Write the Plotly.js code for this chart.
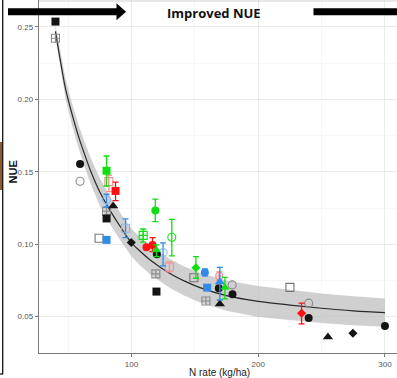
<!DOCTYPE html>
<html><head><meta charset="utf-8">
<script src="https://cdn.plot.ly/plotly-3.0.1.min.js"></script>
<style>html,body{margin:0;padding:0;background:#fff;}#chart{width:397px;height:378px;}</style>
</head><body><div id="chart"></div>
<script>
// ---- fitted curve and confidence band ----
const fitN     = [40, 44, 48, 53, 58, 63, 68, 75, 84, 92, 100, 107, 115, 130, 142, 154, 175, 200, 225, 250, 275, 300];
const fitNUE   = [0.247, 0.226, 0.207, 0.190, 0.175, 0.162, 0.150, 0.136, 0.122, 0.111, 0.101, 0.095, 0.089, 0.080, 0.0745, 0.070, 0.0645, 0.0605, 0.058, 0.0558, 0.054, 0.0528];
const bandHi   = [0.251, 0.232, 0.214, 0.1975, 0.183, 0.1705, 0.159, 0.1455, 0.1315, 0.1205, 0.1105, 0.1048, 0.099, 0.090, 0.0845, 0.0803, 0.075, 0.0712, 0.0685, 0.066, 0.064, 0.0626];
const bandLo   = [0.243, 0.220, 0.200, 0.1825, 0.167, 0.1535, 0.141, 0.1265, 0.1125, 0.1015, 0.0915, 0.0852, 0.079, 0.070, 0.0645, 0.0597, 0.054, 0.0498, 0.0475, 0.0456, 0.044, 0.043];

// ---- observations ----
const blkSqN = [40.0, 80.3, 119.7],            blkSqY = [0.2537, 0.1178, 0.0673];
const gryXSqN = [40.0, 80.3, 119.2, 158.7],    gryXSqY = [0.2422, 0.1228, 0.0795, 0.0608];
const blkCirN = [59.4, 120.0, 168.9, 179.7, 239.8, 300.0], blkCirY = [0.1554, 0.0931, 0.0696, 0.0655, 0.0491, 0.0436];
const gryCirN = [59.4, 179.4, 239.8],          gryCirY = [0.1435, 0.0719, 0.0593];
const blkTriN = [85.5, 169.7, 255.0],          blkTriY = [0.1264, 0.0588, 0.0360];
const grySqN  = [74.4, 149.2, 225.0],          grySqY  = [0.1041, 0.0769, 0.0702];
const blkDiaN = [99.8, 274.7],                 blkDiaY = [0.1012, 0.0385];

const grnSqN = [80.3],  grnSqY = [0.1507],  grnSqHi = [0.1609], grnSqLo = [0.1402];
const grnCirN = [118.8], grnCirY = [0.1232], grnCirHi = [0.1311], grnCirLo = [0.1156];
const grnXSqN = [109.2], grnXSqY = [0.1061], grnXSqHi = [0.1105], grnXSqLo = [0.1014];
const grnOCirN = [131.8], grnOCirY = [0.1048], grnOCirHi = [0.1172], grnOCirLo = [0.0919];
const grnTriN = [119.7, 173.7], grnTriY = [0.0960, 0.0702], grnTriHi = [0.0995, 0.0771], grnTriLo = [0.0914, 0.0622];
const grnDiaN = [150.8], grnDiaY = [0.0838], grnDiaHi = [0.0914], grnDiaLo = [0.0765];

const redSqN = [87.4], redSqY = [0.1368], redSqHi = [0.1428], redSqLo = [0.1301];
const ltRedSqN = [82.1, 129.9], ltRedSqY = [0.1432, 0.0843], ltRedSqHi = [0.1475, 0.0878], ltRedSqLo = [0.1363, 0.0809];
const redCirN = [111.8, 116.6], redCirY = [0.0979, 0.0995], redCirHi = [0.0979, 0.1045], redCirLo = [0.0979, 0.0949];
const ltRedCirN = [169.2], ltRedCirY = [0.0781], ltRedCirHi = [0.0809], ltRedCirLo = [0.0753];
const redDiaN = [234.2], redDiaY = [0.0523], redDiaHi = [0.0593], redDiaLo = [0.0450];

const bluSqN = [80.3, 159.7], bluSqY = [0.1030, 0.0700];
const ltBluCirN = [80.3, 124.9], ltBluCirY = [0.1306, 0.0942], ltBluCirHi = [0.1345, 0.1009], ltBluCirLo = [0.1257, 0.0850];
const ltBluSqN = [95.3], ltBluSqY = [0.1110], ltBluSqHi = [0.1175], ltBluSqLo = [0.1045];
const bluCirN = [157.9], bluCirY = [0.0805], bluCirHi = [0.0829], bluCirLo = [0.0781];
const bluTriN = [169.7], bluTriY = [0.0740], bluTriHi = [0.0840], bluTriLo = [0.0615];

const xTicks = [100, 200, 300];
const yTicks = [0.05, 0.10, 0.15, 0.20, 0.25];
const yTickText = ['0.05', '0.10', '0.15', '0.20', '0.25'];

// ---- styling ----
const BLACK = '#141414', GREY = '#8a8a8a', GREEN = '#10e010', RED = '#ff1010', LTRED = '#f59090',
      BLUE = '#2f8ae8', LTBLUE = '#86b6ec';

function errTrace(x, y, hi, lo, color) {
  return {type: 'scatter', mode: 'markers', x: x, y: y, hoverinfo: 'skip', showlegend: false,
    marker: {size: 0.1, color: 'rgba(0,0,0,0)'},
    error_y: {type: 'data', symmetric: false,
      array: hi.map((h, i) => h - y[i]), arrayminus: lo.map((l, i) => y[i] - l),
      color: color, thickness: 1.3, width: 3}};
}
function pts(x, y, symbol, color, size, open) {
  return {type: 'scatter', mode: 'markers', x: x, y: y, showlegend: false, hoverinfo: 'skip',
    marker: {symbol: symbol, size: size, color: color, line: {color: color, width: open ? 1.1 : 0}}};
}

const traces = [
  {type: 'scatter', mode: 'lines', x: fitN, y: bandLo, line: {width: 0, color: 'rgba(0,0,0,0)'}, showlegend: false, hoverinfo: 'skip'},
  {type: 'scatter', mode: 'lines', x: fitN, y: bandHi, fill: 'tonexty', fillcolor: 'rgba(190,190,190,0.72)', line: {width: 0, color: 'rgba(0,0,0,0)'}, showlegend: false, hoverinfo: 'skip'},
  {type: 'scatter', mode: 'lines', x: fitN, y: fitNUE, line: {width: 1.2, color: '#2a2a2a', shape: 'spline', smoothing: 1}, showlegend: false, hoverinfo: 'skip'},

  // open / light markers first
  pts(gryXSqN, gryXSqY, 'square-cross-open', GREY, 8, true),
  pts(gryCirN, gryCirY, 'circle-open', GREY, 8, true),
  pts(grySqN, grySqY, 'square-open', '#777', 8, true),

  errTrace(ltRedSqN, ltRedSqY, ltRedSqHi, ltRedSqLo, LTRED),
  pts(ltRedSqN, ltRedSqY, 'square-open', LTRED, 8, true),
  errTrace(ltRedCirN, ltRedCirY, ltRedCirHi, ltRedCirLo, LTRED),
  pts(ltRedCirN, ltRedCirY, 'circle-cross-open', LTRED, 7, true),
  errTrace(ltBluCirN, ltBluCirY, ltBluCirHi, ltBluCirLo, BLUE),
  pts(ltBluCirN, ltBluCirY, 'circle-open', LTBLUE, 8, true),
  errTrace(ltBluSqN, ltBluSqY, ltBluSqHi, ltBluSqLo, BLUE),
  pts(ltBluSqN, ltBluSqY, 'square-open', LTBLUE, 8, true),

  // black filled
  pts(blkSqN, blkSqY, 'square', BLACK, 8, false),
  pts(blkCirN, blkCirY, 'circle', BLACK, 8, false),
  pts(blkTriN, blkTriY, 'triangle-up', BLACK, 9, false),
  pts(blkDiaN, blkDiaY, 'diamond', BLACK, 7, false),

  // green
  errTrace(grnSqN, grnSqY, grnSqHi, grnSqLo, GREEN),
  pts(grnSqN, grnSqY, 'square', GREEN, 8, false),
  errTrace(grnCirN, grnCirY, grnCirHi, grnCirLo, GREEN),
  pts(grnCirN, grnCirY, 'circle', GREEN, 8, false),
  errTrace(grnXSqN, grnXSqY, grnXSqHi, grnXSqLo, GREEN),
  pts(grnXSqN, grnXSqY, 'square-cross-open', GREEN, 8, true),
  errTrace(grnOCirN, grnOCirY, grnOCirHi, grnOCirLo, GREEN),
  pts(grnOCirN, grnOCirY, 'circle-open', GREEN, 8, true),
  errTrace(grnDiaN, grnDiaY, grnDiaHi, grnDiaLo, GREEN),
  pts(grnDiaN, grnDiaY, 'diamond', GREEN, 7, false),

  // red
  errTrace(redSqN, redSqY, redSqHi, redSqLo, RED),
  pts(redSqN, redSqY, 'square', RED, 8, false),
  errTrace(redCirN, redCirY, redCirHi, redCirLo, RED),
  pts(redCirN, redCirY, 'circle', RED, 8, false),
  errTrace(redDiaN, redDiaY, redDiaHi, redDiaLo, RED),
  pts(redDiaN, redDiaY, 'diamond', RED, 7, false),

  // blue filled
  pts(bluSqN, bluSqY, 'square', BLUE, 8, false),
  errTrace(bluCirN, bluCirY, bluCirHi, bluCirLo, BLUE),
  pts(bluCirN, bluCirY, 'circle', BLUE, 8, false),
  errTrace(bluTriN, bluTriY, bluTriHi, bluTriLo, BLUE),
  pts(bluTriN, bluTriY, 'triangle-up', BLUE, 9, false),

  errTrace(grnTriN, grnTriY, grnTriHi, grnTriLo, GREEN),
  pts(grnTriN, grnTriY, 'triangle-up', GREEN, 8, false)
];

// pixel -> paper helpers (plot area: x 39..397, y 0..353)
const PL = 39, PW = 358, PH = 353;
const px = v => (v - PL) / PW;
const py = v => (PH - v) / PH;

const layout = {
  width: 397, height: 378,
  margin: {l: PL, r: 0, t: 0, b: 378 - PH, pad: 0},
  paper_bgcolor: '#ffffff', plot_bgcolor: '#ffffff',
  font: {family: 'Liberation Sans, Arial, sans-serif'},
  showlegend: false,
  xaxis: {range: [27.0, 309.5], tickvals: xTicks, ticktext: xTicks.map(String),
    showgrid: true, gridcolor: '#ebebeb', gridwidth: 1, zeroline: false,
    minor: {tickvals: [50, 150, 250], showgrid: true, gridcolor: '#f4f4f4', gridwidth: 0.7, ticks: ''},
    showline: true, linecolor: '#7a7a7a', linewidth: 1.3, mirror: false,
    ticks: 'outside', ticklen: 3, tickwidth: 1, tickcolor: '#7a7a7a',
    tickfont: {size: 8, color: '#555'}, fixedrange: true},
  yaxis: {range: [0.0249, 0.2686], tickvals: yTicks, ticktext: yTickText,
    showgrid: true, gridcolor: '#ebebeb', gridwidth: 1, zeroline: false,
    minor: {tickvals: [0.075, 0.125, 0.175, 0.225], showgrid: true, gridcolor: '#f4f4f4', gridwidth: 0.7, ticks: ''},
    showline: true, linecolor: '#7a7a7a', linewidth: 1.3,
    ticks: 'outside', ticklen: 3, tickwidth: 1, tickcolor: '#7a7a7a',
    tickfont: {size: 8, color: '#555'}, fixedrange: true},
  shapes: [
    // top border
    {type: 'line', xref: 'paper', yref: 'paper', x0: px(39), x1: px(397), y0: py(1), y1: py(1), line: {color: '#cfcfcf', width: 1}, layer: 'above'},
    // left picture frame
    {type: 'rect', xref: 'paper', yref: 'paper', x0: px(0), x1: px(2.2), y0: py(142), y1: py(190), fillcolor: '#8c5a2e', line: {width: 0}},
    {type: 'line', xref: 'paper', yref: 'paper', x0: px(2.7), x1: px(2.7), y0: py(0), y1: py(374), line: {color: '#111', width: 1.3}},
    {type: 'line', xref: 'paper', yref: 'paper', x0: px(0), x1: px(3), y0: py(374), y1: py(374), line: {color: '#111', width: 1.3}},
    // arrow
    {type: 'rect', xref: 'paper', yref: 'paper', x0: px(8), x1: px(118), y0: py(15.3), y1: py(8.3), fillcolor: '#000', line: {width: 0}, layer: 'above'},
    {type: 'path', xref: 'paper', yref: 'paper', path: 'M ' + px(116.5) + ' ' + py(3.3) + ' L ' + px(126) + ' ' + py(11.8) + ' L ' + px(116.5) + ' ' + py(20.3) + ' Z', fillcolor: '#000', line: {width: 0}, layer: 'above'},
    // right bar
    {type: 'rect', xref: 'paper', yref: 'paper', x0: px(313.5), x1: px(397), y0: py(15.3), y1: py(8.3), fillcolor: '#000', line: {width: 0}, layer: 'above'}
  ],
  annotations: [
    {text: 'Improved NUE', xref: 'paper', yref: 'paper', x: px(214), y: py(12.5), xanchor: 'center', yanchor: 'middle', showarrow: false,
      font: {family: 'Open Sans, Liberation Sans, sans-serif', size: 13, color: '#111', weight: 'bold'}},
    {text: 'NUE', xref: 'paper', yref: 'paper', x: px(12.5), y: py(172), xanchor: 'center', yanchor: 'middle', textangle: -90, showarrow: false,
      font: {family: 'Liberation Sans, Arial, sans-serif', size: 11, color: '#111', weight: 'bold'}},
    {text: 'N rate (kg/ha)', xref: 'paper', yref: 'paper', x: px(219), y: py(372.5), xanchor: 'center', yanchor: 'middle', showarrow: false,
      font: {family: 'Liberation Sans, Arial, sans-serif', size: 10, color: '#222'}}
  ]
};

Plotly.newPlot('chart', traces, layout, {displayModeBar: false, staticPlot: true});
</script>
</body></html>
